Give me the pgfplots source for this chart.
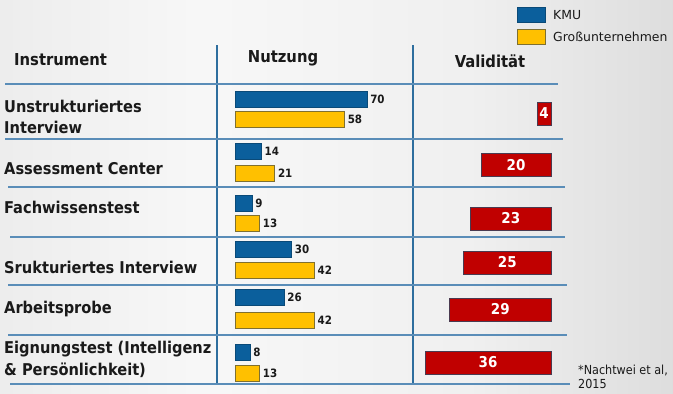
\documentclass[border=0pt]{standalone}
\usepackage{pgfplots}
\pgfplotsset{compat=1.18}
\usepackage{fontspec}
\setmainfont{DejaVu Sans Condensed}
\newfontfamily\legfont{DejaVu Sans}
\definecolor{kmu}{HTML}{0B5F9C}
\definecolor{kmuD}{HTML}{0A4A78}
\definecolor{gross}{HTML}{FFC000}
\definecolor{grossD}{HTML}{7F7030}
\definecolor{valid}{HTML}{C00000}
\definecolor{validD}{HTML}{4A3A50}
\definecolor{vline}{HTML}{2E6E9E}
\definecolor{hline}{HTML}{5A8DB8}
\definecolor{txt}{HTML}{1A1A1A}
\pgfdeclarehorizontalshading{bgshade}{100bp}{color(0bp)=(black!14); color(40bp)=(black!3); color(60bp)=(black!6); color(85bp)=(black!18); color(100bp)=(black!24)}
\begin{document}
\begin{tikzpicture}
\shade[shading=bgshade] (0,0) rectangle (673bp,-394bp);
\begin{scope}[x=1bp,y=-1bp]
% grid lines
\draw[vline, line width=1.1bp] (217,45) -- (217,383);
\draw[vline, line width=1.1bp] (413,45) -- (413,383);
\foreach \ya/\xa/\xb in {84/5/558,139/5/563,187/8/565,237/10/565,285/8/567,335/8/567,384/10/570}
  \draw[hline, line width=1.2bp] (\xa,\ya) -- (\xb,\ya);
% headers
\begin{scope}[every node/.style={text=txt, font=\bfseries\fontsize{16.5}{18}\selectfont, inner sep=0pt}]
\node[anchor=west] at (14,60) {Instrument};
\node at (283,58) {Nutzung};
\node at (490,61) {Validität};
\end{scope}
% row labels
\begin{scope}[every node/.style={text=txt, font=\bfseries\fontsize{16.3}{18}\selectfont, inner sep=0pt, anchor=west}]
\node at (4,106) {Unstrukturiertes};
\node at (4,127) {Interview};
\node at (4,169) {Assessment Center};
\node at (4,207) {Fachwissenstest};
\node at (4,267) {Srukturiertes Interview};
\node at (4,309) {Arbeitsprobe};
\node at (4,349) {Eignungstest (Intelligenz};
\node at (4,370) {\& Persönlichkeit)};
\end{scope}
% legend
\filldraw[fill=kmu, draw=kmuD, line width=0.8bp] (517,7) rectangle (545,22);
\filldraw[fill=gross, draw=grossD, line width=0.8bp] (517,29) rectangle (545,44);
\node[anchor=west, inner sep=0pt, text=txt, font=\legfont\fontsize{12.5}{14}\selectfont] at (553,15) {KMU};
\node[anchor=west, inner sep=0pt, text=txt, font=\legfont\fontsize{12.5}{14}\selectfont] at (553,37) {Großunternehmen};
% footnote
\node[anchor=west, inner sep=0pt, text=txt, font=\fontsize{12.5}{14}\selectfont] at (578,370) {*Nachtwei et al,};
\node[anchor=west, inner sep=0pt, text=txt, font=\fontsize{12.5}{14}\selectfont] at (578,384) {2015};
\end{scope}

% Nutzung bars
\begin{axis}[at={(235bp,0bp)}, anchor=north west, scale only axis,
  width=132bp, height=394bp, xmin=0, xmax=70, ymin=0, ymax=394, y dir=reverse,
  hide axis, clip=false, xbar, bar width=16, bar shift=0pt,
  /pgf/number format/assume math mode=true,
  nodes near coords,
  every node near coord/.append style={anchor=west, inner sep=3bp, text=txt, font=\bfseries\fontsize{11.5}{12}\selectfont}]
\addplot[fill=kmu, draw=kmuD, line width=0.6bp] coordinates {(70,99) (14,151) (9,203.5) (30,249) (26,297.5) (8,352)};
\addplot[fill=gross, draw=grossD, line width=0.8bp] coordinates {(58,119.5) (21,173) (13,223) (42,270.5) (42,320) (13,373)};
\end{axis}

% Validitaet bars
\begin{axis}[at={(551bp,0bp)}, anchor=north east, scale only axis,
  width=126bp, height=394bp, xmin=0, xmax=36, x dir=reverse, ymin=0, ymax=394, y dir=reverse,
  hide axis, clip=false, xbar, bar width=23, bar shift=0pt,
  /pgf/number format/assume math mode=true,
  visualization depends on={x \as \rawx},
  nodes near coords,
  every node near coord/.append style={anchor=center, xshift={\rawx*1.75bp}, inner sep=0pt, text=white, font=\bfseries\fontsize{15}{16}\selectfont}]
\addplot[fill=valid, draw=validD, line width=0.8bp] coordinates {(4,113.5) (20,165) (23,218.5) (25,262.5) (29,309.5) (36,362.5)};
\end{axis}
\pgfresetboundingbox
\path (0,0) rectangle (673bp,-394bp);
\end{tikzpicture}
\end{document}
